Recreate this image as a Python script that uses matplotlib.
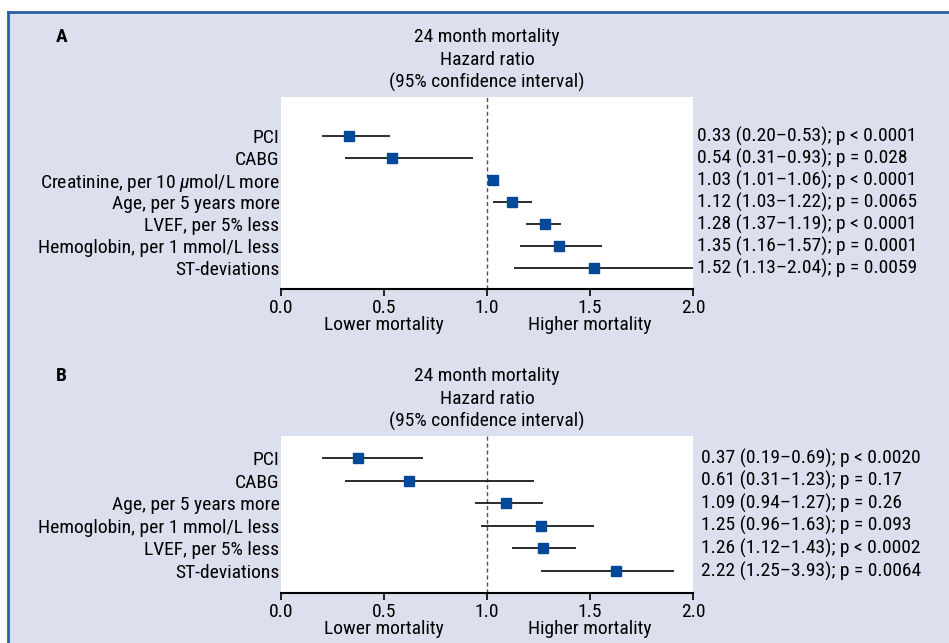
import matplotlib
matplotlib.use("Agg")
import matplotlib.pyplot as plt
from matplotlib.patches import Rectangle
from matplotlib.lines import Line2D

plt.rcParams['font.family'] = ['Roboto Condensed', 'Archivo Narrow', 'DejaVu Sans']
plt.rcParams['mathtext.fontset'] = 'custom'
plt.rcParams['mathtext.rm'] = 'Roboto Condensed'
plt.rcParams['mathtext.it'] = 'Roboto Condensed:italic'
plt.rcParams['font.size'] = 14

# panel A
labels_a = ["PCI", "CABG", r"Creatinine, per 10 $\mu$mol/L more", "Age, per 5 years more",
            "LVEF, per 5% less", "Hemoglobin, per 1 mmol/L less", "ST-deviations"]
hr_a = [0.33, 0.54, 1.03, 1.12, 1.28, 1.35, 1.52]
lo_a = [0.20, 0.31, 1.01, 1.03, 1.19, 1.16, 1.13]
hi_a = [0.53, 0.93, 1.06, 1.22, 1.36, 1.56, 2.04]
text_a = ["0.33 (0.20\u20130.53); p < 0.0001", "0.54 (0.31\u20130.93); p = 0.028",
          "1.03 (1.01\u20131.06); p < 0.0001", "1.12 (1.03\u20131.22); p = 0.0065",
          "1.28 (1.37\u20131.19); p < 0.0001", "1.35 (1.16\u20131.57); p = 0.0001",
          "1.52 (1.13\u20132.04); p = 0.0059"]

# panel B
labels_b = ["PCI", "CABG", "Age, per 5 years more", "Hemoglobin, per 1 mmol/L less",
            "LVEF, per 5% less", "ST-deviations"]
hr_b = [0.375, 0.62, 1.09, 1.26, 1.27, 1.625]
lo_b = [0.20, 0.31, 0.94, 0.97, 1.12, 1.26]
hi_b = [0.69, 1.23, 1.27, 1.52, 1.43, 1.91]
text_b = ["0.37 (0.19\u20130.69); p < 0.0020", "0.61 (0.31\u20131.23); p = 0.17",
          "1.09 (0.94\u20131.27); p = 0.26", "1.25 (0.96\u20131.63); p = 0.093",
          "1.26 (1.12\u20131.43); p < 0.0002", "2.22 (1.25\u20133.93); p = 0.0064"]

xticks = [0.0, 0.5, 1.0, 1.5, 2.0]
title_lines = ["24 month mortality", "Hazard ratio", "(95% confidence interval)"]

W, H = 949, 643
BG = '#dcdfee'
BLUE = '#04489a'

fig = plt.figure(figsize=(W / 100, H / 100), dpi=100, facecolor='white')
fig.patches.append(Rectangle((8 / W, 0), 1, 1 - 12 / H, transform=fig.transFigure,
                             facecolor=BG, edgecolor='none', zorder=-10))
fig.lines.append(Line2D([8 / W, 1], [1 - 12 / H, 1 - 12 / H], transform=fig.transFigure,
                        color='#2a5ea6', lw=2))
fig.lines.append(Line2D([8 / W, 8 / W], [0, 1 - 12 / H], transform=fig.transFigure,
                        color='#2a5ea6', lw=2))


def panel(rect_px, letter, labels, hr, lo, hi, texts, ylim, txt_off):
    left, top, right, bottom = rect_px
    ax = fig.add_axes([left / W, 1 - bottom / H, (right - left) / W, (bottom - top) / H])
    ax.set_facecolor('white')
    rows = list(range(len(labels)))
    ax.hlines(rows, lo, hi, color='#1a1a1a', lw=1.3, zorder=2)
    ax.plot(hr, rows, 's', color=BLUE, ms=6.8, zorder=3, clip_on=False)
    ax.axvline(1.0, color='#555555', lw=1, ls=(0, (3, 2)), zorder=1)
    ax.set_xlim(0, 2)
    ax.set_ylim(*ylim)
    ax.set_yticks(rows, labels)
    ax.tick_params(axis='y', length=0, pad=1)
    ax.set_xticks(xticks, [f"{t:.1f}" for t in xticks])
    ax.tick_params(axis='x', length=5, width=1.2, pad=2, color='black')
    for s in ['left', 'top', 'right']:
        ax.spines[s].set_visible(False)
    ax.spines['bottom'].set_linewidth(1.5)
    for r, t in zip(rows, texts):
        ax.annotate(t, xy=(1, r), xycoords=('axes fraction', 'data'),
                    xytext=(txt_off, 0), textcoords='offset pixels',
                    ha='left', va='center', annotation_clip=False)
    for off, line in zip([60, 37, 15], title_lines):
        ax.annotate(line, xy=(1.0, 1), xycoords=('data', 'axes fraction'),
                    xytext=(0, off), textcoords='offset pixels',
                    ha='center', va='center', annotation_clip=False)
    for xv, lab in [(0.5, "Lower mortality"), (1.5, "Higher mortality")]:
        ax.annotate(lab, xy=(xv, 0), xycoords=('data', 'axes fraction'),
                    xytext=(0, -36), textcoords='offset pixels',
                    ha='center', va='center', annotation_clip=False)
    fig.text(56 / W, 1 - (top - 60) / H, letter, ha='left', va='center',
             weight='bold', fontsize=14)
    return ax


panel((281, 97, 693, 289), "A", labels_a, hr_a, lo_a, hi_a, text_a, (6.94, -1.77), 4)
panel((281, 436, 693, 593), "B", labels_b, hr_b, lo_b, hi_b, text_b, (5.98, -0.99), 8)

fig.savefig("out.png", dpi=100, facecolor='white')
